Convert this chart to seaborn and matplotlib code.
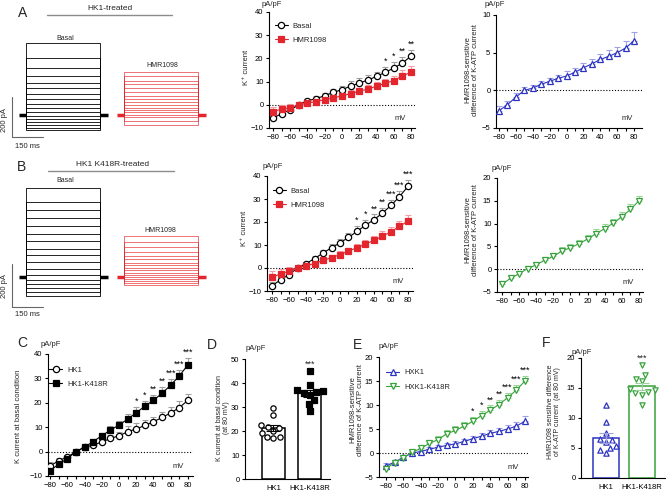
import numpy as np
import pandas as pd
import matplotlib
matplotlib.use('Agg')
import matplotlib.pyplot as plt
from matplotlib.lines import Line2D
import seaborn as sns

# Estilo general tipo GraphPad
sns.set_theme(style='ticks')
plt.rcParams['font.family'] = ['Liberation Sans', 'DejaVu Sans']
plt.rcParams['axes.linewidth'] = 0.8

# ---------------- Datos ----------------
mv = [-80, -70, -60, -50, -40, -30, -20, -10, 0, 10, 20, 30, 40, 50, 60, 70, 80]

# HK1: basal y con HMR1098 (pA/pF)
hk1_basal = [-5.8, -3.8, -2.2, 0.0, 1.7, 2.7, 3.9, 5.4, 6.5, 8.1, 9.3, 10.7, 12.2, 14.0, 15.8, 18.0, 21.0]
hk1_basal_err = [1.5, 1.2, 1.0, 0.8, 0.8, 0.9, 1.0, 1.3, 1.6, 2.3, 2.3, 2.2, 2.0, 2.2, 2.6, 2.6, 2.8]
hk1_hmr = [-2.9, -1.9, -1.2, 0.0, 0.7, 1.4, 2.2, 2.9, 3.9, 4.8, 5.8, 6.8, 8.0, 9.3, 10.4, 12.5, 14.0]
hk1_hmr_err = [2.0, 1.8, 1.6, 1.0, 0.9, 1.0, 1.1, 1.2, 1.3, 1.5, 1.6, 1.7, 1.8, 2.0, 2.2, 2.3, 2.7]

# HK1-K418R: basal y con HMR1098
k418r_basal = [-7.8, -5.1, -2.9, 0.0, 1.9, 4.1, 6.5, 8.8, 10.9, 13.3, 15.9, 18.6, 21.0, 23.9, 27.2, 31.0, 35.5]
k418r_basal_err = [1.5, 1.2, 1.0, 0.8, 0.9, 1.0, 1.3, 1.5, 1.8, 2.0, 2.2, 2.3, 2.3, 2.4, 2.5, 2.6, 2.8]
k418r_hmr = [-4.0, -2.6, -1.4, 0.0, 1.0, 1.9, 3.3, 4.5, 5.8, 7.4, 8.8, 10.4, 12.0, 13.8, 15.8, 18.1, 20.4]
k418r_hmr_err = [2.5, 2.0, 1.8, 1.0, 1.0, 1.1, 1.2, 1.3, 1.4, 1.5, 1.7, 1.8, 2.0, 2.1, 2.2, 2.3, 2.5]

# Corriente K-ATP sensible a HMR1098
hk1_diff = [-2.7, -1.9, -0.9, 0.0, 0.3, 0.8, 1.2, 1.6, 1.9, 2.4, 3.0, 3.5, 4.1, 4.5, 5.0, 5.6, 6.6]
hk1_diff_err = [0.6, 0.5, 0.5, 0.4, 0.4, 0.4, 0.5, 0.5, 0.6, 0.6, 0.6, 0.7, 0.7, 0.8, 0.8, 0.9, 1.1]
k418r_diff = [-3.3, -2.0, -1.0, 0.15, 0.95, 2.0, 2.8, 4.0, 4.7, 5.6, 6.6, 7.8, 8.9, 10.1, 11.5, 13.1, 15.0]
k418r_diff_err = [0.7, 0.6, 0.6, 0.5, 0.5, 0.6, 0.7, 0.8, 0.9, 0.9, 1.0, 1.0, 1.0, 1.0, 1.0, 1.1, 1.1]

# Significancia por voltaje
estrellas_a = {50: '*', 60: '*', 70: '**', 80: '**'}
estrellas_k418r = {20: '*', 30: '*', 40: '**', 50: '**', 60: '***', 70: '***', 80: '***'}

# Celulas individuales a 80 mV
grupos = ['HK1', 'HK1-K418R']
d_hk1 = [29.7, 26.8, 22.3, 21.6, 21.4, 20.0, 19.3, 17.6, 17.3, 17.0]
d_k418r = [45.0, 39.2, 36.9, 36.5, 36.2, 35.9, 34.9, 32.8, 31.1, 28.4]
f_hk1 = [12.2, 9.4, 7.5, 6.5, 6.3, 6.0, 5.3, 5.0, 4.6, 4.1]
f_k418r = [18.8, 17.1, 16.5, 16.1, 14.8, 14.6, 14.4, 14.2, 13.9, 12.2]

# Registros: nivel de corriente de cada pulso (pA), de arriba a abajo
traza_a_basal = [360, 285, 235, 195, 160, 135, 105, 80, 55, 35, 15, -5, -20, -35, -50, -65, -75]
traza_a_hmr = [215, 195, 170, 155, 135, 115, 95, 80, 65, 50, 35, 25, 15, 0, -10, -30, -50]
traza_b_basal = [414, 349, 312, 274, 237, 200, 167, 130, 102, 70, 37, 9, -14, -33, -51, -70, -88]
traza_b_hmr = [191, 163, 140, 116, 98, 84, 65, 56, 42, 33, 19, 9, 0, -9, -19, -28, -37]

NEGRO = 'black'
GRIS_ERR = '#a0a0a0'
ROJO = '#e3262d'
ROJO_CLARO = '#f0a0a4'
AZUL = '#2c33c0'
AZUL_CLARO = '#a0a2e2'
VERDE = '#38a23c'
VERDE_CLARO = '#9ad49a'

TAM_TICK = 5.5
TAM_TXT = 5.5

W, H = 669, 493
fig = plt.figure(figsize=(W / 100, H / 100), dpi=100)


def eje(l, t, r, b):
    # caja en pixeles de la figura
    return fig.add_axes([l / W, 1 - b / H, (r - l) / W, (b - t) / H])


def texto(x, y, s, **kw):
    kw.setdefault('ha', 'center')
    kw.setdefault('va', 'center')
    fig.text(x / W, 1 - y / H, s, **kw)


def linea(x0, x1, y, **kw):
    fig.add_artist(Line2D([x0 / W, x1 / W], [1 - y / H, 1 - y / H], transform=fig.transFigure, **kw))


def estilo_ejes(ax):
    sns.despine(ax=ax)
    ax.tick_params(which='both', direction='out', length=2.5, width=0.8,
                   labelsize=TAM_TICK, pad=1.5, color='black', labelcolor='black')
    for s in ['left', 'bottom']:
        ax.spines[s].set_color('black')
        ax.spines[s].set_linewidth(0.8)
    ax.set_facecolor('none')


def curva_iv(caja, series, xlim, ylim, yticks, estrellas=None, ref=None, leyenda=None):
    ax = eje(*caja)
    for vals, errs, marcador, color, color_err, relleno, etiqueta, ms in series:
        ax.errorbar(mv, vals, yerr=[np.zeros(len(errs)), errs], fmt='none', ecolor=color_err,
                    elinewidth=0.8, capsize=2, capthick=0.8, zorder=2)
        sns.lineplot(x=mv, y=vals, ax=ax, color=color, marker=marcador, markersize=ms,
                     markerfacecolor=relleno, markeredgecolor=color, markeredgewidth=0.9,
                     linewidth=0.8, label=etiqueta, zorder=3)
    ax.axhline(0, color='black', ls=(0, (1, 1.6)), lw=0.8, zorder=1)
    ax.set_xlim(*xlim)
    ax.set_ylim(*ylim)
    ax.set_yticks(yticks)
    ax.set_xticks(range(-80, 81, 20))
    ax.set_xticks(range(-70, 71, 20), minor=True)
    ax.set_xlabel('')
    ax.set_ylabel('')
    estilo_ejes(ax)
    ax.text(0.9, 0.08, 'mV', transform=ax.transAxes, fontsize=TAM_TXT, ha='center', va='center')
    if estrellas:
        vals, errs = ref
        pad = (ylim[1] - ylim[0]) * 0.01
        for v, s in estrellas.items():
            i = mv.index(v)
            ax.text(v, vals[i] + errs[i] + pad, s, ha='center', va='bottom', fontsize=6.5,
                    color='black')
    if leyenda:
        ax.legend(loc='upper left', bbox_to_anchor=leyenda, frameon=False, fontsize=TAM_TXT,
                  handlelength=1.7, handletextpad=0.6, labelspacing=0.9, borderpad=0,
                  borderaxespad=0)
    elif ax.get_legend() is not None:
        ax.get_legend().remove()
    return ax


def panel_trazos(caja, basal, hmr, y_hold, px_pa, sb_bajo):
    l, t, r, b = caja
    px_ms = 31 / 150
    x_t0 = 26
    duracion = 360
    t_rojo = 474
    ax = eje(l, t, r, b)
    ax.set_xlim((l - x_t0) / px_ms, (r - x_t0) / px_ms)
    ax.set_ylim((y_hold - b) / px_pa, (y_hold - t) / px_pa)
    ax.axis('off')
    for nivel in basal:
        ax.plot([0, 0, duracion, duracion], [0, nivel, nivel, 0], color=NEGRO, lw=0.6)
    for nivel in hmr:
        ax.plot([t_rojo, t_rojo, t_rojo + duracion, t_rojo + duracion], [0, nivel, nivel, 0],
                color=ROJO, lw=0.5, alpha=0.9)
    # tramos de mantenimiento
    for t0, c in [(0, NEGRO), (t_rojo, ROJO)]:
        ax.plot([t0 - 35, t0], [0, 0], color=c, lw=2.5, solid_capstyle='butt')
        ax.plot([t0 + duracion, t0 + duracion + 35], [0, 0], color=c, lw=2.5, solid_capstyle='butt')
    # barra de escala 200 pA / 150 ms
    sb_t = (12 - x_t0) / px_ms
    ax.plot([sb_t, sb_t, sb_t + 150], [sb_bajo + 200, sb_bajo, sb_bajo], color='0.4', lw=0.8)
    return ax


# ---------------- Panel A ----------------
texto(23, 13, 'A', fontsize=10)
texto(110, 8, 'HK1-treated', fontsize=6)
linea(47, 172, 15, color='0.55', lw=1)
panel_trazos((0, 30, 215, 160), traza_a_basal, traza_a_hmr, 115, 40 / 200, (115 - 137) / 0.2)
texto(65, 39, 'Basal', fontsize=5)
texto(162, 65, 'HMR1098', fontsize=5)
texto(5, 120, '200 pA', fontsize=5.5, rotation=90)
texto(27, 146, '150 ms', fontsize=5.5)

curva_iv((269, 12, 415, 128),
         [(hk1_basal, hk1_basal_err, 'o', NEGRO, GRIS_ERR, 'white', 'Basal', 4.5),
          (hk1_hmr, hk1_hmr_err, 's', ROJO, ROJO_CLARO, ROJO, 'HMR1098', 4)],
         (-84.6, 84.6), (-10, 40), range(-10, 41, 10), estrellas_a, (hk1_basal, hk1_basal_err),
         leyenda=(0.04, 0.91))
texto(272, 5, 'pA/pF', fontsize=TAM_TXT)
texto(247, 67, 'K⁺ current', fontsize=TAM_TXT, rotation=90)

curva_iv((496, 15, 642, 128),
         [(hk1_diff, hk1_diff_err, '^', AZUL, AZUL_CLARO, 'white', None, 4.5)],
         (-83.6, 89.5), (-5, 10), [-5, 0, 5, 10])
texto(495, 5, 'pA/pF', fontsize=TAM_TXT)
texto(472, 70, 'HMR1098-sensitive\ndifference of K-ATP current', fontsize=TAM_TXT, rotation=90,
      linespacing=1.15)

# ---------------- Panel B ----------------
texto(22, 167, 'B', fontsize=10)
texto(113, 165, 'HK1 K418R-treated', fontsize=6)
linea(48, 174, 171, color='0.55', lw=1)
panel_trazos((0, 175, 215, 320), traza_b_basal, traza_b_hmr, 277, 43 / 200, (277 - 307) / 0.215)
texto(65, 181, 'Basal', fontsize=5)
texto(160, 231, 'HMR1098', fontsize=5)
texto(5, 286, '200 pA', fontsize=5.5, rotation=90)
texto(27, 314, '150 ms', fontsize=5.5)

curva_iv((267, 176, 413, 291),
         [(k418r_basal, k418r_basal_err, 'o', NEGRO, GRIS_ERR, 'white', 'Basal', 4.5),
          (k418r_hmr, k418r_hmr_err, 's', ROJO, ROJO_CLARO, ROJO, 'HMR1098', 4)],
         (-85.9, 85.9), (-10, 40), range(-10, 41, 10), estrellas_k418r,
         (k418r_basal, k418r_basal_err), leyenda=(0.04, 0.9))
texto(273, 167, 'pA/pF', fontsize=TAM_TXT)
texto(245, 228, 'K⁺ current', fontsize=TAM_TXT, rotation=90)

curva_iv((497, 178, 643, 292),
         [(k418r_diff, k418r_diff_err, 'v', VERDE, VERDE_CLARO, 'white', None, 4.5)],
         (-85.8, 84.7), (-5, 20), range(-5, 21, 5))
texto(502, 168, 'pA/pF', fontsize=TAM_TXT)
texto(472, 230, 'HMR1098-sensitive\ndifference of K-ATP current', fontsize=TAM_TXT, rotation=90,
      linespacing=1.15)

# ---------------- Panel C ----------------
texto(22, 343, 'C', fontsize=10)
curva_iv((48, 354, 193, 476),
         [(hk1_basal, hk1_basal_err, 'o', NEGRO, GRIS_ERR, 'white', 'HK1', 4.5),
          (k418r_basal, k418r_basal_err, 's', NEGRO, GRIS_ERR, NEGRO, 'HK1-K418R', 4)],
         (-82.5, 86), (-10, 40), range(-10, 41, 10), estrellas_k418r,
         (k418r_basal, k418r_basal_err), leyenda=(0.01, 0.9))
texto(51, 345, 'pA/pF', fontsize=TAM_TXT)
texto(19, 416, 'K current at basal condition', fontsize=TAM_TXT, rotation=90)

# ---------------- Panel E ----------------
texto(358, 345, 'E', fontsize=10)
curva_iv((379, 357, 528, 477),
         [(hk1_diff, hk1_diff_err, '^', AZUL, AZUL_CLARO, 'white', 'HXK1', 4.5),
          (k418r_diff, k418r_diff_err, 'v', VERDE, VERDE_CLARO, 'white', 'HXK1-K418R', 4.5)],
         (-88, 83.5), (-5, 20), range(-5, 21, 5), estrellas_k418r,
         (k418r_diff, k418r_diff_err), leyenda=(0.05, 0.9))
texto(389, 347, 'pA/pF', fontsize=TAM_TXT)
texto(357, 410, 'HMR1098-sensitive\ndifference of K-ATP current', fontsize=TAM_TXT, rotation=90,
      linespacing=1.15)


# ---------------- Paneles D y F (barras) ----------------
def barras(caja, valores, xlim, ylim, yticks, colores, colores_err, marcadores, rellenos, ancho):
    ax = eje(*caja)
    df = pd.DataFrame({'grupo': [grupos[0]] * len(valores[0]) + [grupos[1]] * len(valores[1]),
                       'valor': valores[0] + valores[1]})
    sns.barplot(data=df, x='grupo', y='valor', order=grupos, hue='grupo', hue_order=grupos,
                palette=colores, legend=False, fill=False, width=ancho, errorbar=None,
                linewidth=1.1, ax=ax)
    for i, g in enumerate(grupos):
        sub = df[df['grupo'] == g]
        sns.swarmplot(data=sub, x='grupo', y='valor', order=grupos, ax=ax, marker=marcadores[i],
                      size=3.8, color=rellenos[i], edgecolor=colores[i], linewidth=0.9, zorder=4)
        media = np.mean(valores[i])
        sem = np.std(valores[i], ddof=1) / np.sqrt(len(valores[i]))
        ax.errorbar(i, media, yerr=sem, fmt='none', ecolor=colores_err[i], elinewidth=0.8,
                    capsize=5, capthick=0.8, zorder=5)
    ax.set_xlim(*xlim)
    ax.set_ylim(*ylim)
    ax.set_yticks(yticks)
    ax.set_xlabel('')
    ax.set_ylabel('')
    estilo_ejes(ax)
    ax.tick_params(axis='x', length=0, pad=4)
    ax.text(1, max(valores[1]) + (ylim[1] - ylim[0]) * 0.02, '***', ha='center', va='bottom',
            fontsize=6.5)
    return ax


texto(212, 345, 'D', fontsize=10)
barras((245, 359, 330, 479), [d_hk1, d_k418r], (-0.78, 1.55), (0, 50), range(0, 51, 10),
       [NEGRO, NEGRO], [NEGRO, NEGRO], ['o', 's'], ['white', NEGRO], 0.63)
texto(256, 348, 'pA/pF', fontsize=TAM_TXT)
texto(223, 418, 'K current at basal condition\n(at 80 mV)', fontsize=5, rotation=90,
      linespacing=1.1)

texto(546, 343, 'F', fontsize=10)
barras((581, 358, 665, 478), [f_hk1, f_k418r], (-0.69, 1.64), (0, 20), range(0, 21, 5),
       [AZUL, VERDE], [AZUL_CLARO, VERDE_CLARO], ['^', 'v'], ['white', 'white'], 0.72)
texto(582, 352, 'pA/pF', fontsize=TAM_TXT)
texto(554, 412, 'HMR1098 sensitive difference\nof K-ATP current  (at 80 mV)', fontsize=5,
      rotation=90, linespacing=1.1)

fig.savefig('out.png', dpi=100, facecolor='white')
